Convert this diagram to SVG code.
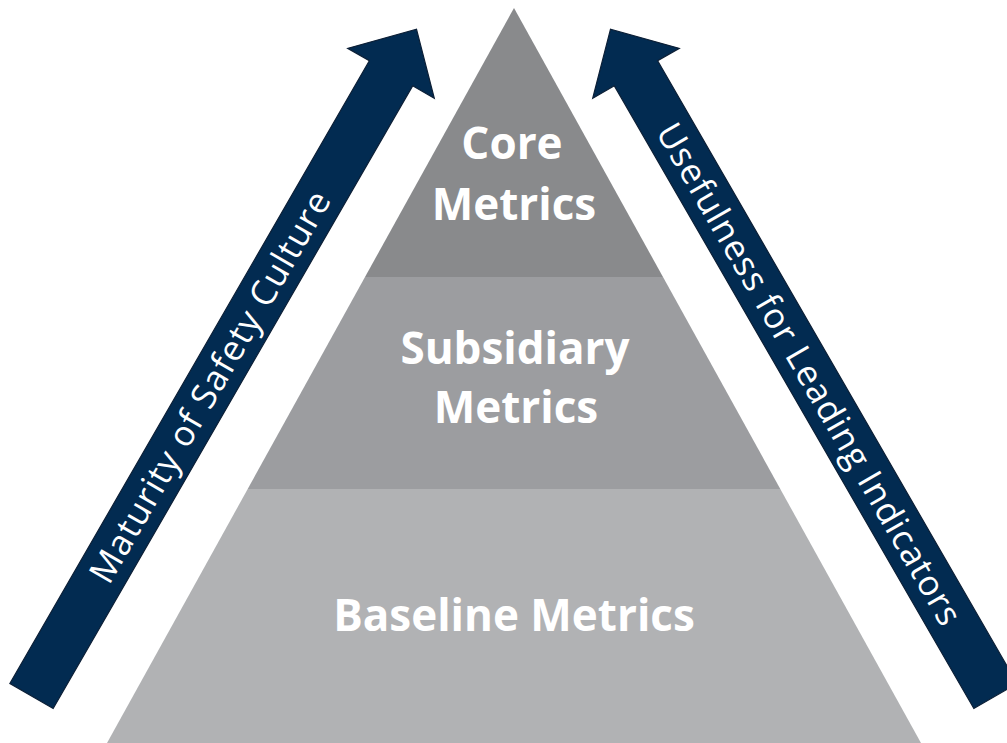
<svg xmlns="http://www.w3.org/2000/svg" width="1007" height="743" viewBox="0 0 1007 743">
  <style>
    .tier-label { font-family: "Open Sans", "Liberation Sans", sans-serif; font-weight: bold; font-size: 44px; fill: #ffffff; text-anchor: middle; }
    .arrow-label { font-family: "Open Sans", "Liberation Sans", sans-serif; font-size: 35px; fill: #ffffff; text-anchor: middle; }
    .arrow-shape { fill: #022b51; stroke: #0c1f36; stroke-width: 1.2; stroke-linejoin: miter; }
  </style>
  <defs>
    <path id="arrowPath" d="M0,-25 L719,-25 L719,-50 L770,0 L719,50 L719,25 L0,25 Z"/>
  </defs>
  <rect width="1007" height="743" fill="#ffffff"/>

  <g id="pyramid">
    <g id="tier-core">
      <polygon points="514,8 663,277 365,277" fill="#898a8c"/>
      <text class="tier-label" x="512" y="159">Core</text>
      <text class="tier-label" x="514" y="220">Metrics</text>
    </g>
    <g id="tier-subsidiary">
      <polygon points="365,277 663,277 780.3,489 247.7,489" fill="#9c9da0"/>
      <text class="tier-label" x="515" y="364">Subsidiary</text>
      <text class="tier-label" x="516" y="423">Metrics</text>
    </g>
    <g id="tier-baseline">
      <polygon points="247.7,489 780.3,489 921,743 107,743" fill="#b1b2b4"/>
      <text class="tier-label" x="514" y="631">Baseline Metrics</text>
    </g>
  </g>

  <g id="connectors">
    <g id="arrow-maturity">
      <use href="#arrowPath" class="arrow-shape" transform="translate(31.5,696) rotate(-60)"/>
      <text class="arrow-label" transform="translate(210,387) rotate(-60)" x="0" y="12" textLength="446">Maturity of Safety Culture</text>
    </g>
    <g id="arrow-usefulness">
      <use href="#arrowPath" class="arrow-shape" transform="translate(995.5,696) scale(-1,1) rotate(-60)"/>
      <text class="arrow-label" transform="translate(809,374) rotate(60)" x="0" y="12" textLength="573">Usefulness for Leading Indicators</text>
    </g>
  </g>
</svg>
